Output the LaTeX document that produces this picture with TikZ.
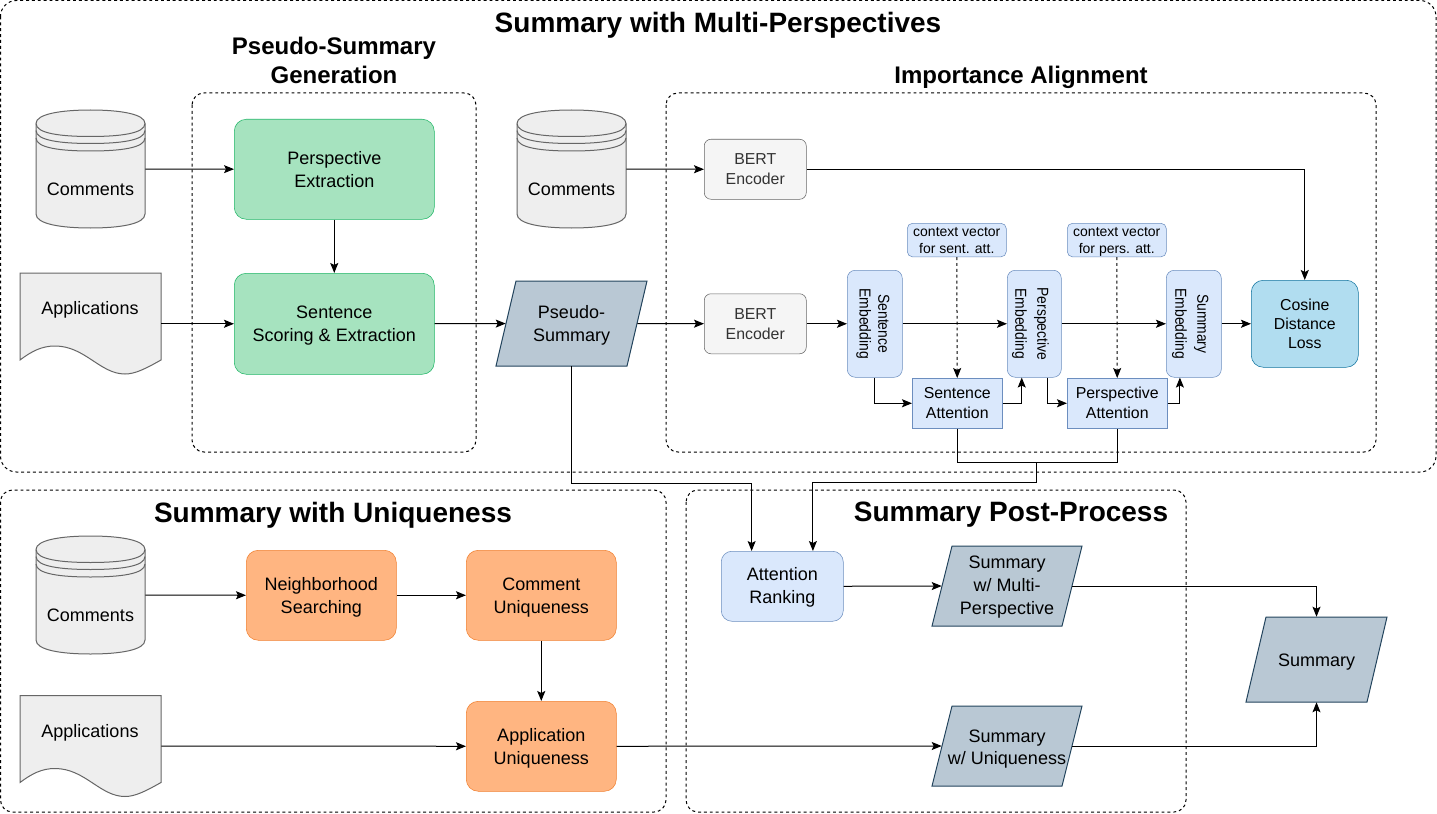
\documentclass[tikz,border=0pt]{standalone}
\usepackage{fontspec}
\setmainfont{Liberation Sans}
\usetikzlibrary{arrows.meta,calc}
\definecolor{grayfill}{HTML}{EEEEEE}
\definecolor{graydraw}{HTML}{666666}
\definecolor{greenfill}{HTML}{A6E3BF}
\definecolor{greendraw}{HTML}{1FB566}
\definecolor{orangefill}{HTML}{FFB581}
\definecolor{orangedraw}{HTML}{F08030}
\definecolor{bluefill}{HTML}{DAE8FC}
\definecolor{bluedraw}{HTML}{6C8EBF}
\definecolor{parafill}{HTML}{B9C8D4}
\definecolor{paradraw}{HTML}{23445D}
\definecolor{cosfill}{HTML}{B1DDF0}
\definecolor{cosdraw}{HTML}{10739E}
\definecolor{bertfill}{HTML}{F5F5F5}
\definecolor{berttext}{HTML}{333333}
\tikzset{
  x=0.75pt,y=-0.75pt,
  line width=0.75pt,
  group/.style={draw=black,dash pattern=on 2.2pt off 2.2pt,rounded corners=9pt,line width=0.75pt},
  conn/.style={draw=black,line width=0.75pt,-{Stealth[length=7.5pt,width=6pt,inset=1.5pt]}},
  plain/.style={draw=black,line width=0.75pt},
  dashconn/.style={conn,dash pattern=on 2.2pt off 2.2pt},
  title/.style={font=\bfseries\fontsize{21}{25}\selectfont,align=center,inner sep=0pt},
  subtitle/.style={font=\bfseries\fontsize{18}{22}\selectfont,align=center,inner sep=0pt},
  box/.style={rectangle,anchor=north west,inner sep=0pt,align=center},
  greenbox/.style={box,draw=greendraw,fill=greenfill,rounded corners=9pt,font=\fontsize{13.5}{17}\selectfont},
  orangebox/.style={box,draw=orangedraw,fill=orangefill,rounded corners=9pt,font=\fontsize{13.5}{17}\selectfont},
  bluebox/.style={box,draw=bluedraw,fill=bluefill,font=\fontsize{11.9}{15}\selectfont},
  embbox/.style={bluebox,rounded corners=6pt},
  contextbox/.style={bluebox,rounded corners=4pt,font=\fontsize{10.5}{12.6}\selectfont},
  bertbox/.style={box,draw=graydraw,fill=bertfill,text=berttext,rounded corners=5pt,font=\fontsize{11.9}{15}\selectfont},
  shapelabel/.style={rectangle,inner sep=0pt,align=center,font=\fontsize{13.5}{17}\selectfont},
  sidelabel/.style={rotate=-90,font=\fontsize{11.9}{16.5}\selectfont,align=center,inner sep=0pt},
  shapeedge/.style={line width=0.75pt},
}
% text moved down by #1 without altering the node's extent
\newcommand{\tdn}[2]{\raisebox{-#1}[\height][\depth]{\begin{tabular}{@{}c@{}}#2\end{tabular}}}
% text narrowed along its length
\newcommand{\squish}[1]{\scalebox{0.875}[1]{\begin{tabular}{@{}c@{}}#1\end{tabular}}}
\newcommand{\sizedbox}[7]{%
  \pgfmathsetmacro{\bw}{(#5-#3)*0.75}\pgfmathsetmacro{\bh}{(#6-#4)*0.75}%
  \node[#1,minimum width=\bw pt,minimum height=\bh pt] (#2) at (#3,#4) {#7};}
\newcommand{\dbshape}[5]{%
  \path[shapeedge,draw=graydraw,fill=grayfill] (#2,#3+13.5) .. controls (#2,#3+4) and (#2+25,#3) .. ({(#2+#4)/2},#3)
    .. controls (#4-25,#3) and (#4,#3+4) .. (#4,#3+13.5) -- (#4,#5-14)
    .. controls (#4,#5-4) and (#4-25,#5) .. ({(#2+#4)/2},#5)
    .. controls (#2+25,#5) and (#2,#5-4) .. (#2,#5-14) -- cycle;
  \foreach \dy in {13.5,20.5,28}{
  \draw[graydraw,shapeedge] (#2,#3+\dy) .. controls (#2,#3+\dy+10) and (#2+25,#3+\dy+13) .. ({(#2+#4)/2},#3+\dy+13)
    .. controls (#4-25,#3+\dy+13) and (#4,#3+\dy+10) .. (#4,#3+\dy);}
  \pgfmathsetmacro{\bw}{(#4-#2)*0.75}\pgfmathsetmacro{\bh}{(#5-#3)*0.75}%
  \node[shapelabel,minimum width=\bw pt,minimum height=\bh pt] (#1) at ({(#2+#4)/2},{(#3+#5)/2}) {};
  \node[shapelabel] (#1text) at ({(#2+#4)/2},#3+79) {Comments};
}
\newcommand{\docshape}[3]{%
  \path[shapeedge,draw=graydraw,fill=grayfill] (#2,#3) -- (#2+141,#3) -- (#2+141,#3+87)
    .. controls (#2+125,#3+96) and (#2+115,#3+101) .. (#2+105,#3+101)
    .. controls (#2+80,#3+101) and (#2+65,#3+73) .. (#2+35,#3+73)
    .. controls (#2+22,#3+73) and (#2+12,#3+78) .. (#2,#3+87) -- cycle;
  \pgfmathsetmacro{\bw}{141*0.75}\pgfmathsetmacro{\bh}{100*0.75}%
  \node[shapelabel,minimum width=\bw pt,minimum height=\bh pt] (#1) at (#2+70.5,#3+50.5) {};
  \node[shapelabel] (#1text) at (#2+70,#3+37) {Applications};
}
\newcommand{\parashape}[7]{%
  \path[shapeedge,draw=paradraw,fill=parafill] (#2,#5) -- (#2+#6,#3) -- (#4,#3) -- (#4-#6,#5) -- cycle;
  \pgfmathsetmacro{\bw}{(#4-#2-#6)*0.75}\pgfmathsetmacro{\bh}{(#5-#3)*0.75}%
  \node[shapelabel,minimum width=\bw pt,minimum height=\bh pt] (#1) at ({(#2+#4)/2},{(#3+#5)/2}) {#7};
}
\begin{document}
\begin{tikzpicture}
\useasboundingbox (0,0) rectangle (1437,813);
\fill[white] (0,0) rectangle (1437,813);
% groups
\draw[group,rounded corners=12pt] (0.5,0.5) rectangle (1436,472);
\draw[group] (192,93) rectangle (476,452);
\draw[group] (666,93) rectangle (1376,452);
\draw[group] (0.5,490) rectangle (666,812);
\draw[group] (686,490) rectangle (1186,812);
% titles
\node[title] (t1) at (718,25) {Summary with Multi-Perspectives};
\node[subtitle] (t2) at (334,60.5) {Pseudo-Summary\\Generation};
\node[subtitle] (t3) at (1021,77) {Importance Alignment};
\node[title] (t4) at (333,515) {Summary with Uniqueness};
\node[title] (t5) at (1011,515) {Summary Post-Process};
% multi-perspective: pseudo-summary
\dbshape{c1}{36}{110}{145}{228}
\docshape{d1}{20}{273}
\sizedbox{greenbox}{pe1}{234}{119}{434}{219}{Perspective\\Extraction}
\sizedbox{greenbox}{ss}{234}{273}{434}{374}{\tdn{1.5pt}{Sentence\\Scoring \& Extraction}}
\parashape{ps}{496}{281}{647}{366}{20}{\tdn{1.5pt}{Pseudo-\\Summary}}
% importance alignment
\dbshape{c2}{517}{110}{626}{228}
\sizedbox{bertbox}{b1}{704}{139}{806}{199}{BERT\\Encoder}
\sizedbox{bertbox}{b2}{704}{293.5}{806}{353.5}{BERT\\Encoder}
\sizedbox{contextbox}{cs}{907}{223}{1006}{253}{\tdn{1.1pt}{context vector\\for sent. att.}}
\sizedbox{contextbox}{cp}{1067}{223}{1166}{253}{\tdn{1.1pt}{context vector\\for pers. att.}}
\sizedbox{embbox}{se}{847}{270}{902}{377}{}
\sizedbox{embbox}{pe}{1007}{270}{1061}{377}{}
\sizedbox{embbox}{me}{1166}{270}{1221}{377}{}
\node[sidelabel,font=\fontsize{11.9}{14}\selectfont] (set) at ($(se.center)+(-2,0)$) {\squish{Sentence\\Embedding}};
\node[sidelabel] (pet) at ($(pe.center)+(-3.5,0)$) {\squish{Perspective\\Embedding}};
\node[sidelabel] (met) at ($(me.center)+(-3,0)$) {\squish{Summary\\Embedding}};
\sizedbox{bluebox}{sa}{912}{378}{1002}{428}{Sentence\\Attention}
\sizedbox{bluebox}{pa}{1067}{378}{1167}{428}{Perspective\\Attention}
\node[box,draw=cosdraw,fill=cosfill,rounded corners=9pt,minimum width=80.25pt,minimum height=65.25pt,font=\fontsize{11.9}{14.3}\selectfont] (cos) at (1251,280) {\tdn{1.15pt}{Cosine\\Distance\\Loss}};
% uniqueness
\dbshape{c3}{36}{536}{145}{654}
\docshape{d3}{20}{695.5}
\sizedbox{orangebox}{ns}{246}{550}{396}{640}{\tdn{1.5pt}{Neighborhood\\Searching}}
\sizedbox{orangebox}{cu}{466}{550}{616}{640}{\tdn{1.5pt}{Comment\\Uniqueness}}
\sizedbox{orangebox}{au}{466}{701}{616}{791}{\tdn{1.8pt}{Application\\Uniqueness}}
% post-process
\sizedbox{bluebox,rounded corners=8pt,font=\fontsize{13.5}{17}\selectfont}{ar}{721}{551}{843}{621}{\tdn{0.75pt}{Attention\\Ranking}}
\parashape{sm}{932}{546}{1082}{626}{20}{\tdn{0.6pt}{\fontsize{13.5}{16.2}\selectfont Summary\\w/ Multi-\\Perspective}}
\parashape{su}{932}{706}{1082}{786}{20}{\tdn{2.25pt}{Summary\\w/ Uniqueness}}
\parashape{sf}{1246}{617}{1387}{702}{20}{\tdn{1.5pt}{Summary}}
% connectors
\draw[conn] (c1) -- (pe1);
\draw[conn] (d1.east |- ss.west) -- (ss.west);
\draw[conn] (pe1) -- (ss);
\draw[conn] (ss) -- (ps);
\draw[conn] (c2.east) -- (b1.west);
\draw[conn] (ps) -- (b2);
\draw[conn] (b1.east) -| (cos.north);
\draw[conn] (b2) -- (se);
\draw[conn] (se) -- (pe);
\draw[conn] (pe) -- (me);
\draw[conn] (me) -- (cos);
\draw[dashconn] (cs) -- (sa);
\draw[dashconn] (cp) -- (pa);
\draw[conn] (se.south) |- (sa.west);
\draw[conn] (sa.east) -| ($(pe.south west)!0.27!(pe.south east)$);
\draw[conn] ($(pe.south west)!0.75!(pe.south east)$) |- (pa.west);
\draw[conn] (pa.east) -| ($(me.south west)!0.25!(me.south east)$);
\coordinate (psturn) at ($(ps.south)+(0,117)$);
\coordinate (join) at ($(sa.south)+(79,34)$);
\coordinate (joinlow) at ($(join)+(0,20)$);
\draw[conn] (ps.south) -- (psturn) -| ($(ar.north west)!0.25!(ar.north east)$);
\draw[plain] (sa.south) |- (join) -| (pa.south);
\draw[conn] (join) -- (joinlow) -| ($(ar.north west)!0.75!(ar.north east)$);
\draw[conn] (c3.east) -- (ns.west);
\draw[conn] (ns) -- (cu);
\draw[conn] (cu) -- (au);
\draw[conn] (d3.east) -- (au.west);
\draw[conn] (au.east) -- (su.west);
\draw[conn] (ar.east) -- (sm.west);
\draw[conn] (sm.east) -| (sf.north);
\draw[conn] (su.east) -| (sf.south);
\end{tikzpicture}
\end{document}
